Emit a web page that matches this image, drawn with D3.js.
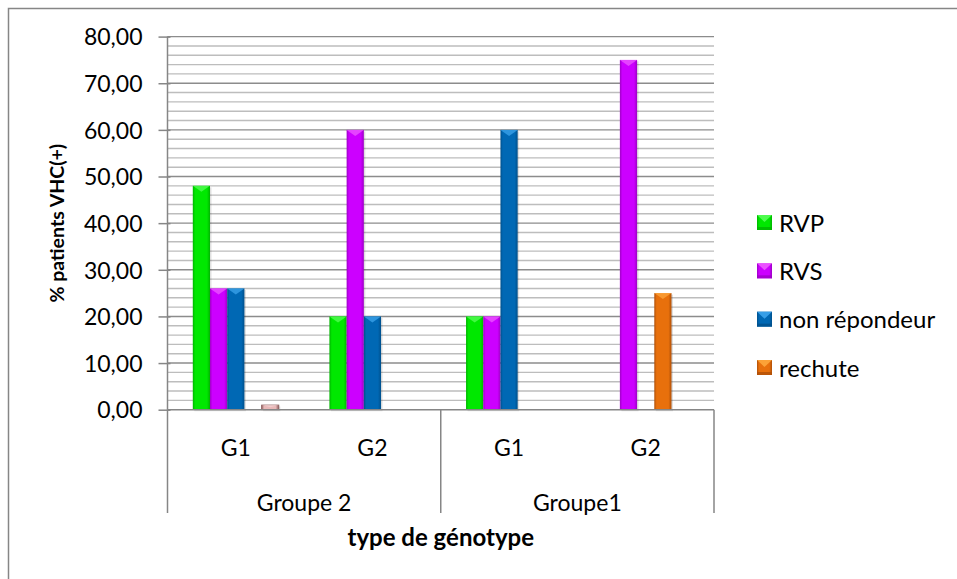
<!DOCTYPE html>
<html><head><meta charset="utf-8">
<script src="https://cdn.jsdelivr.net/npm/d3@7"></script>
<style>body{margin:0;background:#fff}svg{display:block}text{font-family:Lato,"Open Sans",sans-serif;fill:#000}</style>
</head><body><svg id="c" width="957" height="579"></svg>
<script>
const groups = ["Groupe 2", "Groupe1"];
const genotypes = ["G1", "G2"];
const categories = ["Groupe 2|G1", "Groupe 2|G2", "Groupe1|G1", "Groupe1|G2"];
const seriesNames = ["RVP", "RVS", "non répondeur", "rechute", "autre"];
const legendNames = ["RVP", "RVS", "non répondeur", "rechute"];
const RVP = [48, 20, 20, 0];
const RVS = [26, 60, 20, 75];
const nonRepondeur = [26, 20, 60, 0];
const rechute = [0, 0, 0, 25];
const autre = [1, 0, 0, 0];
const yTicks = [0, 10, 20, 30, 40, 50, 60, 70, 80];
const yLabels = ["0,00", "10,00", "20,00", "30,00", "40,00", "50,00", "60,00", "70,00", "80,00"];
const yTitle = "% patients VHC(+)";
const xTitle = "type de génotype";

const seriesValues = [RVP, RVS, nonRepondeur, rechute, autre];
const colors = {
  "RVP": {base: "#00e800", light: "#5cff5c", dark: "#00b400"},
  "RVS": {base: "#cc00ff", light: "#f060ff", dark: "#9e00c6"},
  "non répondeur": {base: "#0068b4", light: "#40a8f0", dark: "#00508c"},
  "rechute": {base: "#e8700c", light: "#ffaa40", dark: "#b05008"},
  "autre": {base: "#e8b8b8", light: "#f4d4d4", dark: "#8a5a5a"}
};

const svg = d3.select("#c");
const L = 167.5, R = 714, T = 36.6, B = 409.7;
const y = d3.scaleLinear().domain([0, 80]).range([B, T]);
const x0 = d3.scaleBand().domain(categories).range([L, R]).padding(0);
const x1 = d3.scaleBand().domain(seriesNames).range([0, x0.bandwidth()]).paddingInner(0).paddingOuter(1.47);

const defs = svg.append("defs");
seriesNames.forEach((s, i) => {
  const g = defs.append("linearGradient").attr("id", "g" + i).attr("x1", "0").attr("x2", "1").attr("y1", "0").attr("y2", "0");
  const c = colors[s];
  g.append("stop").attr("offset", "0").attr("stop-color", c.dark);
  g.append("stop").attr("offset", "0.14").attr("stop-color", c.base);
  g.append("stop").attr("offset", "0.82").attr("stop-color", c.base);
  g.append("stop").attr("offset", "1").attr("stop-color", c.dark);
});

svg.append("rect").attr("x", 8.5).attr("y", 8.5).attr("width", 1000).attr("height", 700)
  .attr("fill", "none").attr("stroke", "#868686").attr("stroke-width", 1.5);

const minor = d3.range(0, 81, 2).filter(v => v % 10 !== 0);
svg.append("g").selectAll("line").data(minor).join("line")
  .attr("x1", L).attr("x2", R).attr("y1", d => y(d)).attr("y2", d => y(d))
  .attr("stroke", "#bdbdbd").attr("stroke-width", 1.4);
svg.append("g").selectAll("line").data(yTicks.filter(v => v > 0)).join("line")
  .attr("x1", L).attr("x2", R).attr("y1", d => y(d)).attr("y2", d => y(d))
  .attr("stroke", "#8c8c8c").attr("stroke-width", 1.4);

const yAxis = d3.axisLeft(y).tickValues(yTicks).tickFormat((d, i) => yLabels[i]).tickSize(9).tickPadding(16);
const ya = svg.append("g").attr("transform", `translate(${L},0)`).call(yAxis);
ya.select(".domain").attr("stroke", "#868686").attr("stroke-width", 1.5).attr("d", `M0,${T}V${B}`);
ya.selectAll(".tick line").attr("stroke", "#868686").attr("stroke-width", 1.5).attr("x2", -9).attr("x1", 3);
ya.selectAll(".tick text").style("font-size", "23px").style("font-family", "Lato").attr("fill", "#000").attr("dy", "0.36em");

const barData = [];
categories.forEach((c, ci) => seriesNames.forEach((s, si) => {
  const v = seriesValues[si][ci];
  if (v > 0) barData.push({c, s, si, v});
}));
const bars = svg.append("g");
const bw = x1.bandwidth();
bars.selectAll("rect.sh").data(barData).join("rect").attr("class", "sh")
  .attr("x", d => x0(d.c) + x1(d.s) + 1.5).attr("y", d => y(d.v) + 1.5)
  .attr("width", bw).attr("height", d => B - y(d.v))
  .attr("fill", "#000").attr("opacity", 0.12);
bars.selectAll("rect.b").data(barData).join("rect").attr("class", "b")
  .attr("x", d => x0(d.c) + x1(d.s)).attr("y", d => y(d.v))
  .attr("width", bw).attr("height", d => B - y(d.v))
  .attr("fill", d => `url(#g${d.si})`)
  .attr("stroke", d => d.s === "autre" ? colors[d.s].dark : "none").attr("stroke-width", d => d.s === "autre" ? 0.8 : 0);
bars.selectAll("path.t").data(barData).join("path").attr("class", "t")
  .attr("d", d => {
    const xx = x0(d.c) + x1(d.s), yy = y(d.v), h = Math.min(6, (B - yy) / 2);
    return `M${xx},${yy}L${xx + bw},${yy}L${xx + bw / 2},${yy + h}Z`;
  })
  .attr("fill", d => colors[d.s].light).attr("opacity", 0.7);

const xa = svg.append("g");
xa.append("line").attr("x1", L).attr("x2", R).attr("y1", B).attr("y2", B).attr("stroke", "#868686").attr("stroke-width", 1.5);
const sepX = [L, x0(categories[2]), R];
xa.selectAll("line.sep").data(sepX).join("line").attr("class", "sep")
  .attr("x1", d => d).attr("x2", d => d).attr("y1", B).attr("y2", 513)
  .attr("stroke", "#868686").attr("stroke-width", 1.5);
xa.selectAll("text.g").data(categories).join("text").attr("class", "g")
  .attr("x", d => x0(d) + x0.bandwidth() / 2).attr("y", 456)
  .attr("text-anchor", "middle").style("font-size", "23px")
  .text(d => d.split("|")[1]);
xa.selectAll("text.grp").data(groups).join("text").attr("class", "grp")
  .attr("x", (d, i) => (x0(categories[i * 2]) + x0(categories[i * 2 + 1]) + x0.bandwidth()) / 2).attr("y", 511)
  .attr("text-anchor", "middle").style("font-size", "23px")
  .text(d => d);

svg.append("text").attr("x", (L + R) / 2).attr("y", 546).attr("text-anchor", "middle")
  .style("font-size", "24px").style("font-weight", "bold").text(xTitle);
svg.append("text").attr("transform", `translate(64,${(T + B) / 2}) rotate(-90)`).attr("text-anchor", "middle")
  .style("font-size", "19.5px").style("font-weight", "bold").text(yTitle);

const leg = svg.append("g");
const ly = d3.scalePoint().domain(legendNames).range([223, 368]);
legendNames.forEach((s) => {
  const si = seriesNames.indexOf(s);
  const g = leg.append("g").attr("transform", `translate(757,${ly(s)})`);
  g.append("rect").attr("x", 0).attr("y", -8).attr("width", 15).attr("height", 15).attr("fill", `url(#g${si})`);
  g.append("rect").attr("x", 0).attr("y", 4).attr("width", 15).attr("height", 3).attr("fill", colors[s].dark).attr("opacity", 0.8);
  g.append("path").attr("d", "M0,-8L15,-8L7.5,-1Z").attr("fill", colors[s].light).attr("opacity", 0.85);
  g.append("text").attr("x", 22).attr("y", 0).attr("dy", "0.36em").style("font-size", "24px").text(s);
});
</script></body></html>
